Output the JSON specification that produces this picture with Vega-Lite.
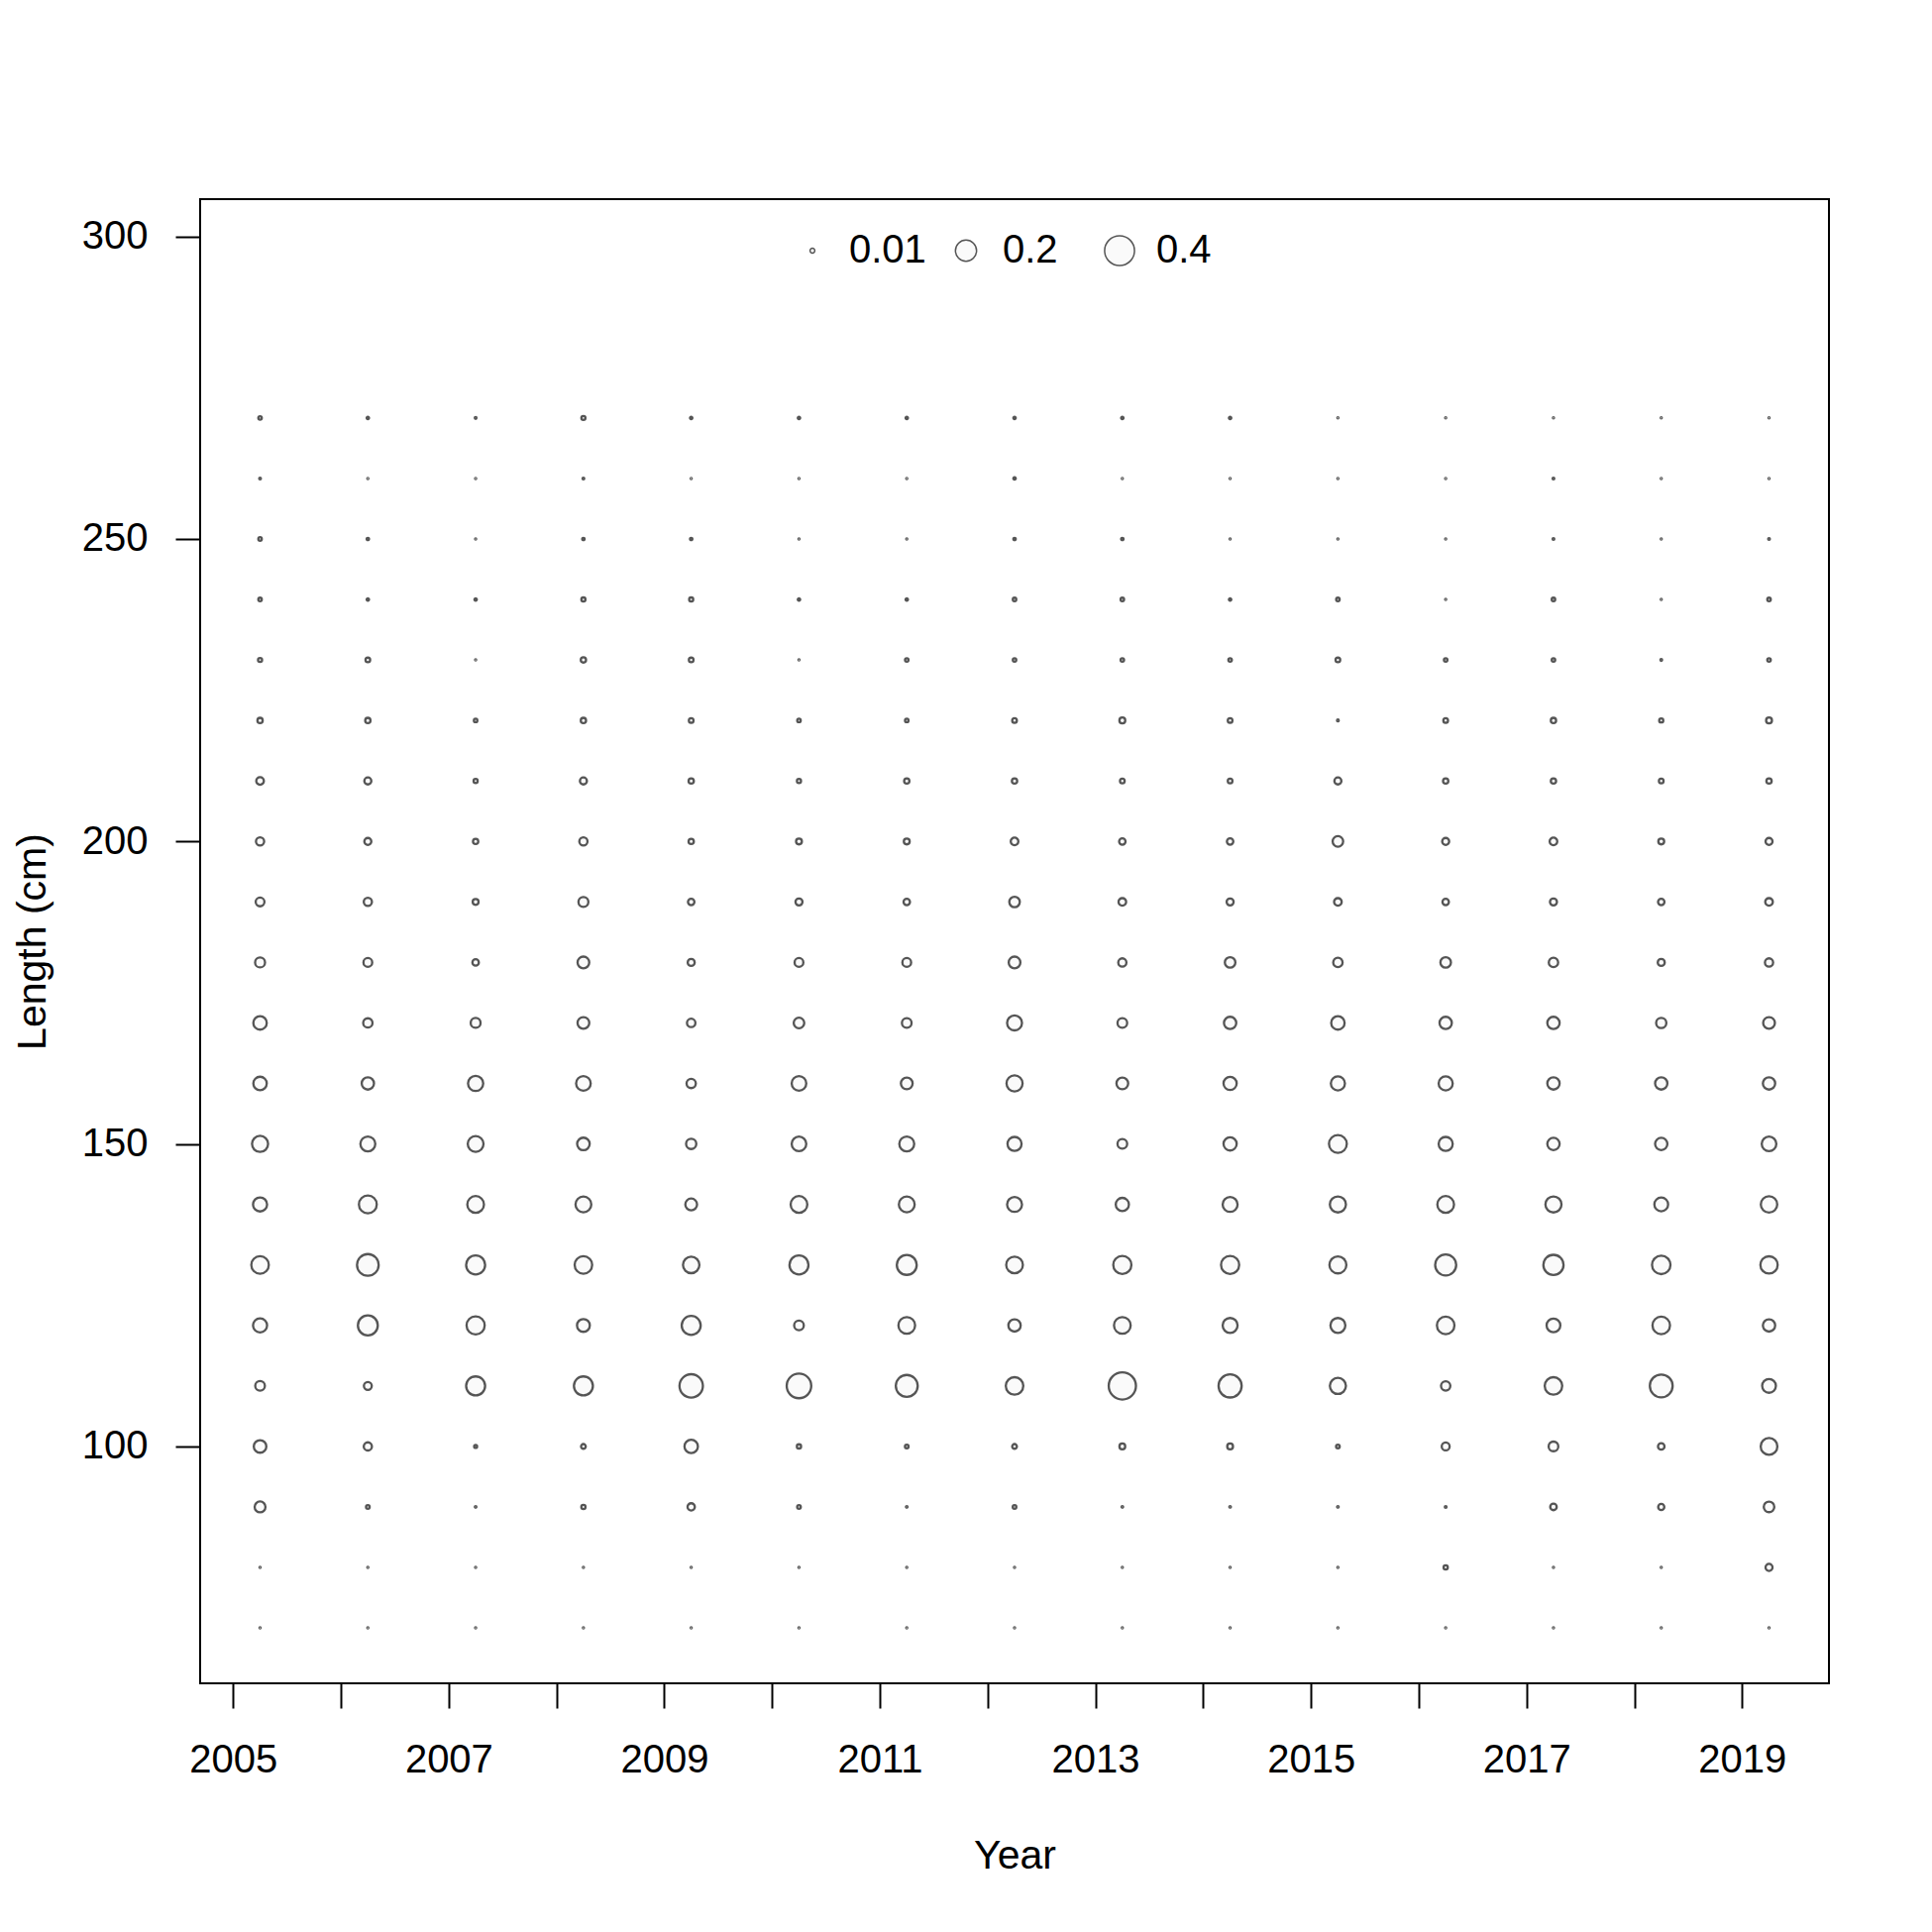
{
  "$schema": "https://vega.github.io/schema/vega-lite/v6.json",
  "autosize": {"type": "none"},
  "padding": {"left": 202, "top": 201, "right": 104, "bottom": 251},
  "width": 1644,
  "height": 1498,
  "background": "white",
  "config": {
    "font": "Liberation Sans",
    "view": {"stroke": "black", "strokeWidth": 2}
  },
  "data": {
    "values": [
      {"Time":2005.25,"Length":270,"Prop":0.0055},{"Time":2006.25,"Length":270,"Prop":0.0025},{"Time":2007.25,"Length":270,"Prop":0.0014},{"Time":2008.25,"Length":270,"Prop":0.0075},{"Time":2009.25,"Length":270,"Prop":0.0025},
      {"Time":2010.25,"Length":270,"Prop":0.0025},{"Time":2011.25,"Length":270,"Prop":0.0025},{"Time":2012.25,"Length":270,"Prop":0.0025},{"Time":2013.25,"Length":270,"Prop":0.0025},{"Time":2014.25,"Length":270,"Prop":0.0025},
      {"Time":2015.25,"Length":270,"Prop":0.0006},{"Time":2016.25,"Length":270,"Prop":0.0006},{"Time":2017.25,"Length":270,"Prop":0.0006},{"Time":2018.25,"Length":270,"Prop":0.0006},{"Time":2019.25,"Length":270,"Prop":0.0006},

      {"Time":2005.25,"Length":260,"Prop":0.0014},{"Time":2006.25,"Length":260,"Prop":0.0006},{"Time":2007.25,"Length":260,"Prop":0.0006},{"Time":2008.25,"Length":260,"Prop":0.0014},{"Time":2009.25,"Length":260,"Prop":0.0006},
      {"Time":2010.25,"Length":260,"Prop":0.0006},{"Time":2011.25,"Length":260,"Prop":0.0006},{"Time":2012.25,"Length":260,"Prop":0.0025},{"Time":2013.25,"Length":260,"Prop":0.0006},{"Time":2014.25,"Length":260,"Prop":0.0006},
      {"Time":2015.25,"Length":260,"Prop":0.0006},{"Time":2016.25,"Length":260,"Prop":0.0006},{"Time":2017.25,"Length":260,"Prop":0.0014},{"Time":2018.25,"Length":260,"Prop":0.0006},{"Time":2019.25,"Length":260,"Prop":0.0006},

      {"Time":2005.25,"Length":250,"Prop":0.0055},{"Time":2006.25,"Length":250,"Prop":0.0025},{"Time":2007.25,"Length":250,"Prop":0.0006},{"Time":2008.25,"Length":250,"Prop":0.0025},{"Time":2009.25,"Length":250,"Prop":0.0025},
      {"Time":2010.25,"Length":250,"Prop":0.0006},{"Time":2011.25,"Length":250,"Prop":0.0006},{"Time":2012.25,"Length":250,"Prop":0.0025},{"Time":2013.25,"Length":250,"Prop":0.0025},{"Time":2014.25,"Length":250,"Prop":0.0006},
      {"Time":2015.25,"Length":250,"Prop":0.0006},{"Time":2016.25,"Length":250,"Prop":0.0006},{"Time":2017.25,"Length":250,"Prop":0.0014},{"Time":2018.25,"Length":250,"Prop":0.0006},{"Time":2019.25,"Length":250,"Prop":0.0014},

      {"Time":2005.25,"Length":240,"Prop":0.0055},{"Time":2006.25,"Length":240,"Prop":0.0025},{"Time":2007.25,"Length":240,"Prop":0.0025},{"Time":2008.25,"Length":240,"Prop":0.0075},{"Time":2009.25,"Length":240,"Prop":0.0075},
      {"Time":2010.25,"Length":240,"Prop":0.0025},{"Time":2011.25,"Length":240,"Prop":0.0025},{"Time":2012.25,"Length":240,"Prop":0.0055},{"Time":2013.25,"Length":240,"Prop":0.0055},{"Time":2014.25,"Length":240,"Prop":0.0025},
      {"Time":2015.25,"Length":240,"Prop":0.0055},{"Time":2016.25,"Length":240,"Prop":0.0006},{"Time":2017.25,"Length":240,"Prop":0.0055},{"Time":2018.25,"Length":240,"Prop":0.0006},{"Time":2019.25,"Length":240,"Prop":0.0055},

      {"Time":2005.25,"Length":230,"Prop":0.0075},{"Time":2006.25,"Length":230,"Prop":0.0098},{"Time":2007.25,"Length":230,"Prop":0.0006},{"Time":2008.25,"Length":230,"Prop":0.0125},{"Time":2009.25,"Length":230,"Prop":0.0098},
      {"Time":2010.25,"Length":230,"Prop":0.0006},{"Time":2011.25,"Length":230,"Prop":0.0055},{"Time":2012.25,"Length":230,"Prop":0.0055},{"Time":2013.25,"Length":230,"Prop":0.0055},{"Time":2014.25,"Length":230,"Prop":0.0055},
      {"Time":2015.25,"Length":230,"Prop":0.0098},{"Time":2016.25,"Length":230,"Prop":0.0055},{"Time":2017.25,"Length":230,"Prop":0.0055},{"Time":2018.25,"Length":230,"Prop":0.0014},{"Time":2019.25,"Length":230,"Prop":0.0055},

      {"Time":2005.25,"Length":220,"Prop":0.0125},{"Time":2006.25,"Length":220,"Prop":0.0125},{"Time":2007.25,"Length":220,"Prop":0.0055},{"Time":2008.25,"Length":220,"Prop":0.0125},{"Time":2009.25,"Length":220,"Prop":0.0098},
      {"Time":2010.25,"Length":220,"Prop":0.0055},{"Time":2011.25,"Length":220,"Prop":0.0055},{"Time":2012.25,"Length":220,"Prop":0.0098},{"Time":2013.25,"Length":220,"Prop":0.0154},{"Time":2014.25,"Length":220,"Prop":0.0098},
      {"Time":2015.25,"Length":220,"Prop":0.0014},{"Time":2016.25,"Length":220,"Prop":0.0098},{"Time":2017.25,"Length":220,"Prop":0.0125},{"Time":2018.25,"Length":220,"Prop":0.0075},{"Time":2019.25,"Length":220,"Prop":0.0154},

      {"Time":2005.25,"Length":210,"Prop":0.026},{"Time":2006.25,"Length":210,"Prop":0.0221},{"Time":2007.25,"Length":210,"Prop":0.0075},{"Time":2008.25,"Length":210,"Prop":0.0221},{"Time":2009.25,"Length":210,"Prop":0.0125},
      {"Time":2010.25,"Length":210,"Prop":0.0075},{"Time":2011.25,"Length":210,"Prop":0.0125},{"Time":2012.25,"Length":210,"Prop":0.0125},{"Time":2013.25,"Length":210,"Prop":0.0098},{"Time":2014.25,"Length":210,"Prop":0.0098},
      {"Time":2015.25,"Length":210,"Prop":0.0221},{"Time":2016.25,"Length":210,"Prop":0.0125},{"Time":2017.25,"Length":210,"Prop":0.0125},{"Time":2018.25,"Length":210,"Prop":0.0098},{"Time":2019.25,"Length":210,"Prop":0.0125},

      {"Time":2005.25,"Length":200,"Prop":0.0301},{"Time":2006.25,"Length":200,"Prop":0.0221},{"Time":2007.25,"Length":200,"Prop":0.0125},{"Time":2008.25,"Length":200,"Prop":0.0301},{"Time":2009.25,"Length":200,"Prop":0.0125},
      {"Time":2010.25,"Length":200,"Prop":0.0154},{"Time":2011.25,"Length":200,"Prop":0.0154},{"Time":2012.25,"Length":200,"Prop":0.026},{"Time":2013.25,"Length":200,"Prop":0.0186},{"Time":2014.25,"Length":200,"Prop":0.0186},
      {"Time":2015.25,"Length":200,"Prop":0.0498},{"Time":2016.25,"Length":200,"Prop":0.0221},{"Time":2017.25,"Length":200,"Prop":0.026},{"Time":2018.25,"Length":200,"Prop":0.0154},{"Time":2019.25,"Length":200,"Prop":0.0221},

      {"Time":2005.25,"Length":190,"Prop":0.0346},{"Time":2006.25,"Length":190,"Prop":0.0301},{"Time":2007.25,"Length":190,"Prop":0.0154},{"Time":2008.25,"Length":190,"Prop":0.0444},{"Time":2009.25,"Length":190,"Prop":0.0186},
      {"Time":2010.25,"Length":190,"Prop":0.0221},{"Time":2011.25,"Length":190,"Prop":0.0186},{"Time":2012.25,"Length":190,"Prop":0.0498},{"Time":2013.25,"Length":190,"Prop":0.026},{"Time":2014.25,"Length":190,"Prop":0.0221},
      {"Time":2015.25,"Length":190,"Prop":0.026},{"Time":2016.25,"Length":190,"Prop":0.0186},{"Time":2017.25,"Length":190,"Prop":0.0221},{"Time":2018.25,"Length":190,"Prop":0.0186},{"Time":2019.25,"Length":190,"Prop":0.026},

      {"Time":2005.25,"Length":180,"Prop":0.0444},{"Time":2006.25,"Length":180,"Prop":0.0346},{"Time":2007.25,"Length":180,"Prop":0.0186},{"Time":2008.25,"Length":180,"Prop":0.0615},{"Time":2009.25,"Length":180,"Prop":0.0221},
      {"Time":2010.25,"Length":180,"Prop":0.0346},{"Time":2011.25,"Length":180,"Prop":0.0346},{"Time":2012.25,"Length":180,"Prop":0.0615},{"Time":2013.25,"Length":180,"Prop":0.0301},{"Time":2014.25,"Length":180,"Prop":0.0498},
      {"Time":2015.25,"Length":180,"Prop":0.0394},{"Time":2016.25,"Length":180,"Prop":0.0498},{"Time":2017.25,"Length":180,"Prop":0.0394},{"Time":2018.25,"Length":180,"Prop":0.0221},{"Time":2019.25,"Length":180,"Prop":0.0301},

      {"Time":2005.25,"Length":170,"Prop":0.081},{"Time":2006.25,"Length":170,"Prop":0.039},{"Time":2007.25,"Length":170,"Prop":0.044},{"Time":2008.25,"Length":170,"Prop":0.062},{"Time":2009.25,"Length":170,"Prop":0.032},
      {"Time":2010.25,"Length":170,"Prop":0.050},{"Time":2011.25,"Length":170,"Prop":0.042},{"Time":2012.25,"Length":170,"Prop":0.100},{"Time":2013.25,"Length":170,"Prop":0.042},{"Time":2014.25,"Length":170,"Prop":0.068},
      {"Time":2015.25,"Length":170,"Prop":0.081},{"Time":2016.25,"Length":170,"Prop":0.068},{"Time":2017.25,"Length":170,"Prop":0.068},{"Time":2018.25,"Length":170,"Prop":0.047},{"Time":2019.25,"Length":170,"Prop":0.062},

      {"Time":2005.25,"Length":160,"Prop":0.081},{"Time":2006.25,"Length":160,"Prop":0.068},{"Time":2007.25,"Length":160,"Prop":0.104},{"Time":2008.25,"Length":160,"Prop":0.096},{"Time":2009.25,"Length":160,"Prop":0.039},
      {"Time":2010.25,"Length":160,"Prop":0.096},{"Time":2011.25,"Length":160,"Prop":0.062},{"Time":2012.25,"Length":160,"Prop":0.116},{"Time":2013.25,"Length":160,"Prop":0.062},{"Time":2014.25,"Length":160,"Prop":0.078},
      {"Time":2015.25,"Length":160,"Prop":0.089},{"Time":2016.25,"Length":160,"Prop":0.089},{"Time":2017.25,"Length":160,"Prop":0.068},{"Time":2018.25,"Length":160,"Prop":0.068},{"Time":2019.25,"Length":160,"Prop":0.068},

      {"Time":2005.25,"Length":150,"Prop":0.116},{"Time":2006.25,"Length":150,"Prop":0.100},{"Time":2007.25,"Length":150,"Prop":0.112},{"Time":2008.25,"Length":150,"Prop":0.071},{"Time":2009.25,"Length":150,"Prop":0.047},
      {"Time":2010.25,"Length":150,"Prop":0.096},{"Time":2011.25,"Length":150,"Prop":0.100},{"Time":2012.25,"Length":150,"Prop":0.089},{"Time":2013.25,"Length":150,"Prop":0.042},{"Time":2014.25,"Length":150,"Prop":0.078},
      {"Time":2015.25,"Length":150,"Prop":0.143},{"Time":2016.25,"Length":150,"Prop":0.089},{"Time":2017.25,"Length":150,"Prop":0.068},{"Time":2018.25,"Length":150,"Prop":0.068},{"Time":2019.25,"Length":150,"Prop":0.096},

      {"Time":2005.25,"Length":140,"Prop":0.089},{"Time":2006.25,"Length":140,"Prop":0.143},{"Time":2007.25,"Length":140,"Prop":0.125},{"Time":2008.25,"Length":140,"Prop":0.112},{"Time":2009.25,"Length":140,"Prop":0.062},
      {"Time":2010.25,"Length":140,"Prop":0.125},{"Time":2011.25,"Length":140,"Prop":0.112},{"Time":2012.25,"Length":140,"Prop":0.100},{"Time":2013.25,"Length":140,"Prop":0.078},{"Time":2014.25,"Length":140,"Prop":0.100},
      {"Time":2015.25,"Length":140,"Prop":0.116},{"Time":2016.25,"Length":140,"Prop":0.125},{"Time":2017.25,"Length":140,"Prop":0.116},{"Time":2018.25,"Length":140,"Prop":0.085},{"Time":2019.25,"Length":140,"Prop":0.121},

      {"Time":2005.25,"Length":130,"Prop":0.138},{"Time":2006.25,"Length":130,"Prop":0.211},{"Time":2007.25,"Length":130,"Prop":0.162},{"Time":2008.25,"Length":130,"Prop":0.138},{"Time":2009.25,"Length":130,"Prop":0.121},
      {"Time":2010.25,"Length":130,"Prop":0.162},{"Time":2011.25,"Length":130,"Prop":0.178},{"Time":2012.25,"Length":130,"Prop":0.125},{"Time":2013.25,"Length":130,"Prop":0.148},{"Time":2014.25,"Length":130,"Prop":0.148},
      {"Time":2015.25,"Length":130,"Prop":0.129},{"Time":2016.25,"Length":130,"Prop":0.199},{"Time":2017.25,"Length":130,"Prop":0.183},{"Time":2018.25,"Length":130,"Prop":0.153},{"Time":2019.25,"Length":130,"Prop":0.134},

      {"Time":2005.25,"Length":120,"Prop":0.089},{"Time":2006.25,"Length":120,"Prop":0.178},{"Time":2007.25,"Length":120,"Prop":0.148},{"Time":2008.25,"Length":120,"Prop":0.074},{"Time":2009.25,"Length":120,"Prop":0.162},
      {"Time":2010.25,"Length":120,"Prop":0.042},{"Time":2011.25,"Length":120,"Prop":0.125},{"Time":2012.25,"Length":120,"Prop":0.068},{"Time":2013.25,"Length":120,"Prop":0.125},{"Time":2014.25,"Length":120,"Prop":0.100},
      {"Time":2015.25,"Length":120,"Prop":0.100},{"Time":2016.25,"Length":120,"Prop":0.138},{"Time":2017.25,"Length":120,"Prop":0.085},{"Time":2018.25,"Length":120,"Prop":0.138},{"Time":2019.25,"Length":120,"Prop":0.068},

      {"Time":2005.25,"Length":110,"Prop":0.042},{"Time":2006.25,"Length":110,"Prop":0.028},{"Time":2007.25,"Length":110,"Prop":0.162},{"Time":2008.25,"Length":110,"Prop":0.162},{"Time":2009.25,"Length":110,"Prop":0.246},
      {"Time":2010.25,"Length":110,"Prop":0.271},{"Time":2011.25,"Length":110,"Prop":0.216},{"Time":2012.25,"Length":110,"Prop":0.138},{"Time":2013.25,"Length":110,"Prop":0.333},{"Time":2014.25,"Length":110,"Prop":0.240},
      {"Time":2015.25,"Length":110,"Prop":0.116},{"Time":2016.25,"Length":110,"Prop":0.039},{"Time":2017.25,"Length":110,"Prop":0.138},{"Time":2018.25,"Length":110,"Prop":0.234},{"Time":2019.25,"Length":110,"Prop":0.085},

      {"Time":2005.25,"Length":100,"Prop":0.071},{"Time":2006.25,"Length":100,"Prop":0.030},{"Time":2007.25,"Length":100,"Prop":0.004},{"Time":2008.25,"Length":100,"Prop":0.010},{"Time":2009.25,"Length":100,"Prop":0.081},
      {"Time":2010.25,"Length":100,"Prop":0.008},{"Time":2011.25,"Length":100,"Prop":0.006},{"Time":2012.25,"Length":100,"Prop":0.010},{"Time":2013.25,"Length":100,"Prop":0.015},{"Time":2014.25,"Length":100,"Prop":0.015},
      {"Time":2015.25,"Length":100,"Prop":0.006},{"Time":2016.25,"Length":100,"Prop":0.028},{"Time":2017.25,"Length":100,"Prop":0.042},{"Time":2018.25,"Length":100,"Prop":0.019},{"Time":2019.25,"Length":100,"Prop":0.125},

      {"Time":2005.25,"Length":90,"Prop":0.053},{"Time":2006.25,"Length":90,"Prop":0.006},{"Time":2007.25,"Length":90,"Prop":0.001},{"Time":2008.25,"Length":90,"Prop":0.008},{"Time":2009.25,"Length":90,"Prop":0.024},
      {"Time":2010.25,"Length":90,"Prop":0.006},{"Time":2011.25,"Length":90,"Prop":0.001},{"Time":2012.25,"Length":90,"Prop":0.006},{"Time":2013.25,"Length":90,"Prop":0.001},{"Time":2014.25,"Length":90,"Prop":0.001},
      {"Time":2015.25,"Length":90,"Prop":0.001},{"Time":2016.25,"Length":90,"Prop":0.0014},{"Time":2017.25,"Length":90,"Prop":0.019},{"Time":2018.25,"Length":90,"Prop":0.017},{"Time":2019.25,"Length":90,"Prop":0.050},

      {"Time":2005.25,"Length":80,"Prop":0.0006},{"Time":2006.25,"Length":80,"Prop":0.0006},{"Time":2007.25,"Length":80,"Prop":0.0006},{"Time":2008.25,"Length":80,"Prop":0.0006},{"Time":2009.25,"Length":80,"Prop":0.0006},
      {"Time":2010.25,"Length":80,"Prop":0.0006},{"Time":2011.25,"Length":80,"Prop":0.0006},{"Time":2012.25,"Length":80,"Prop":0.0006},{"Time":2013.25,"Length":80,"Prop":0.0006},{"Time":2014.25,"Length":80,"Prop":0.0006},
      {"Time":2015.25,"Length":80,"Prop":0.0006},{"Time":2016.25,"Length":80,"Prop":0.008},{"Time":2017.25,"Length":80,"Prop":0.0006},{"Time":2018.25,"Length":80,"Prop":0.0006},{"Time":2019.25,"Length":80,"Prop":0.022},

      {"Time":2005.25,"Length":70,"Prop":0.0006},{"Time":2006.25,"Length":70,"Prop":0.0006},{"Time":2007.25,"Length":70,"Prop":0.0006},{"Time":2008.25,"Length":70,"Prop":0.0006},{"Time":2009.25,"Length":70,"Prop":0.0006},
      {"Time":2010.25,"Length":70,"Prop":0.0006},{"Time":2011.25,"Length":70,"Prop":0.0006},{"Time":2012.25,"Length":70,"Prop":0.0006},{"Time":2013.25,"Length":70,"Prop":0.0006},{"Time":2014.25,"Length":70,"Prop":0.0006},
      {"Time":2015.25,"Length":70,"Prop":0.0006},{"Time":2016.25,"Length":70,"Prop":0.0006},{"Time":2017.25,"Length":70,"Prop":0.0006},{"Time":2018.25,"Length":70,"Prop":0.0006},{"Time":2019.25,"Length":70,"Prop":0.0006}
    ]
  },
  "mark": {
    "type": "point",
    "shape": "circle",
    "filled": false,
    "fill": "#fafafa",
    "stroke": "#555555",
    "strokeWidth": 2.3,
    "opacity": 1
  },
  "encoding": {
    "x": {
      "field": "Time",
      "type": "quantitative",
      "scale": {"domain": [2004.694, 2019.806], "nice": false, "zero": false},
      "axis": {
        "values": [2005, 2006, 2007, 2008, 2009, 2010, 2011, 2012, 2013, 2014, 2015, 2016, 2017, 2018, 2019],
        "format": "d",
        "labelExpr": "datum.value % 2 == 1 ? datum.label : ''",
        "labelOverlap": false,
        "labelFlush": false,
        "domain": false,
        "grid": false,
        "tickSize": 25,
        "tickWidth": 2,
        "tickColor": "black",
        "labelFontSize": 40,
        "labelColor": "black",
        "labelBaseline": "alphabetic",
        "labelPadding": 64,
        "title": "Year",
        "titleFontSize": 41,
        "titleFontWeight": "normal",
        "titleColor": "black",
        "titleBaseline": "alphabetic",
        "titleAlign": "center",
        "titleX": 822,
        "titleY": 186
      }
    },
    "y": {
      "field": "Length",
      "type": "quantitative",
      "scale": {"domain": [60.84, 306.17], "nice": false, "zero": false},
      "axis": {
        "values": [100, 150, 200, 250, 300],
        "labelOverlap": false,
        "labelFlush": false,
        "domain": false,
        "grid": false,
        "tickSize": 25,
        "tickWidth": 2,
        "tickColor": "black",
        "labelFontSize": 40,
        "labelColor": "black",
        "labelBaseline": "middle",
        "labelPadding": 28,
        "title": "Length (cm)",
        "titleFontSize": 41,
        "titleFontWeight": "normal",
        "titleColor": "black",
        "titleAngle": 270,
        "titleBaseline": "alphabetic",
        "titleAlign": "center",
        "titleX": -157,
        "titleY": 749
      }
    },
    "size": {
      "field": "Prop",
      "type": "quantitative",
      "scale": {"type": "linear", "domain": [0, 0.4], "range": [0, 908]},
      "legend": {
        "orient": "none",
        "legendX": 598,
        "legendY": 32,
        "direction": "horizontal",
        "values": [0.01, 0.2, 0.4],
        "format": "~g",
        "title": null,
        "padding": 0,
        "gridAlign": "all",
        "columnPadding": 20,
        "labelOffset": 17,
        "labelFontSize": 40,
        "labelColor": "black",
        "labelBaseline": "middle",
        "symbolType": "circle",
        "symbolOpacity": 1,
        "encode": {
          "symbols": {
            "stroke": {"value": "#555555"},
            "strokeWidth": {"value": 2.3},
            "fill": {"value": "#fafafa"},
            "opacity": {"value": 1}
          }
        }
      }
    }
  }
}
